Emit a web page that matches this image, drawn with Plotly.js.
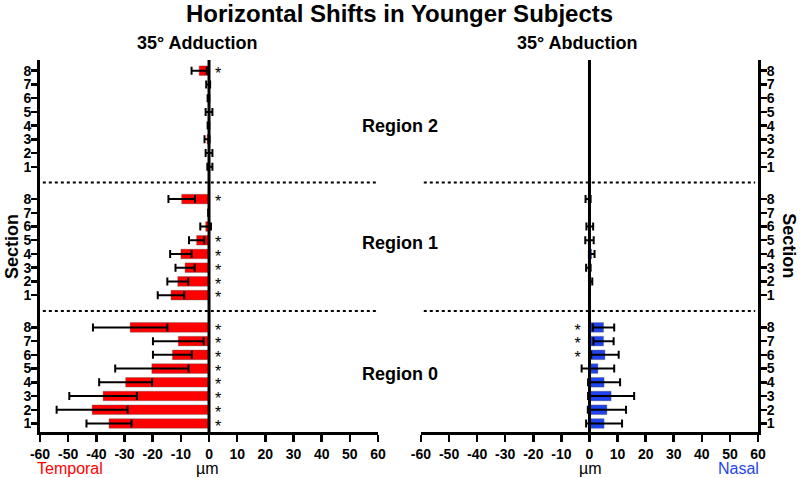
<!DOCTYPE html>
<html>
<head>
<meta charset="utf-8">
<script src="https://cdn.plot.ly/plotly-3.0.1.min.js"></script>
<style>html,body{margin:0;padding:0;background:#fff;}#chart{width:800px;height:478px;}</style>
</head>
<body>
<div id="chart"></div>
<script>
// ---- data ----
const sections = [1, 2, 3, 4, 5, 6, 7, 8];
const sectionLabels = ['1', '2', '3', '4', '5', '6', '7', '8'];
const regionNames = ['Region 0', 'Region 1', 'Region 2'];
const regionSpacing = 9.35;

// 35° Adduction (temporal, negative) — mean and error per section
const adductionR0 = [-35.5, -41.5, -37.6, -29.6, -20.3, -13.0, -10.9, -28.0];
const adductionR0Err = [8.0, 12.6, 12.0, 9.4, 13.0, 6.9, 9.0, 13.2];
const adductionR1 = [-13.5, -11.1, -8.5, -10.0, -4.4, -1.2, -0.3, -9.7];
const adductionR1Err = [4.7, 3.7, 3.4, 3.8, 2.7, 1.9, 0, 4.7];
const adductionR2 = [0.3, 0.0, -0.7, -0.2, 0.0, -0.2, -0.3, -3.5];
const adductionR2Err = [0.9, 1.2, 0.9, 0.3, 1.2, 0.3, 0.7, 2.7];
const adductionSigR0 = [1, 1, 1, 1, 1, 1, 1, 1];
const adductionSigR1 = [1, 1, 1, 1, 1, 0, 0, 1];
const adductionSigR2 = [0, 0, 0, 0, 0, 0, 0, 1];

// 35° Abduction (nasal, positive)
const abductionR0 = [5.2, 6.2, 7.7, 5.2, 3.0, 5.5, 5.0, 5.0];
const abductionR0Err = [6.4, 6.8, 8.2, 5.7, 5.8, 4.9, 3.6, 3.8];
const abductionR1 = [0.0, 0.5, -0.4, 0.8, 0.0, 0.1, 0.0, -0.5];
const abductionR1Err = [0, 0.5, 0.8, 1.0, 1.5, 1.2, 0, 0.9];
const abductionR2 = [null, null, null, null, null, null, null, null];
const abductionR2Err = [0, 0, 0, 0, 0, 0, 0, 0];
const abductionSigR0 = [0, 0, 0, 0, 0, 1, 1, 1];
const abductionSigR1 = [0, 0, 0, 0, 0, 0, 0, 0];
const abductionSigR2 = [0, 0, 0, 0, 0, 0, 0, 0];

const xTicks = [-60, -50, -40, -30, -20, -10, 0, 10, 20, 30, 40, 50, 60];

// ---- build ----
const FONT = 'Liberation Sans, Arial, Helvetica, sans-serif';
const rowPos = (r) => sections.map(s => r * regionSpacing + s);
const allPos = [0, 1, 2].flatMap(r => rowPos(r));
const allLabels = [0, 1, 2].flatMap(() => sectionLabels);

const addVals = [adductionR0, adductionR1, adductionR2];
const addErrs = [adductionR0Err, adductionR1Err, adductionR2Err];
const addSig = [adductionSigR0, adductionSigR1, adductionSigR2];
const abVals = [abductionR0, abductionR1, abductionR2];
const abErrs = [abductionR0Err, abductionR1Err, abductionR2Err];
const abSig = [abductionSigR0, abductionSigR1, abductionSigR2];

const traces = [];
function barTrace(vals, errs, r, color, xa, ya) {
  return {
    type: 'bar', orientation: 'h',
    x: vals, y: rowPos(r), width: 0.7,
    marker: {color: color, line: {color: 'rgba(90,90,90,0.35)', width: 1}},
    error_x: {type: 'data', array: errs, visible: true, color: '#000', thickness: 2, width: 4},
    xaxis: xa, yaxis: ya, hoverinfo: 'skip', showlegend: false
  };
}
for (let r = 0; r < 3; r++) {
  traces.push(barTrace(addVals[r], addErrs[r], r, '#ff0000', 'x', 'y'));
  traces.push(barTrace(abVals[r], abErrs[r], r, '#1f44ee', 'x2', 'y2'));
}
// asterisk glyph sits high in its line box, so its anchor is lowered a little
const starDrop = 0.3;
function starTrace(sigs, xOff, xa, ya) {
  const xs = [], ys = [];
  sigs.forEach((sig, r) => sig.forEach((v, i) => { if (v) { xs.push(xOff); ys.push(r * regionSpacing + sections[i] - starDrop); } }));
  return {type: 'scatter', mode: 'text', x: xs, y: ys, text: xs.map(() => '*'),
    textposition: 'middle center', cliponaxis: false,
    textfont: {family: FONT, size: 16, color: '#000'},
    xaxis: xa, yaxis: ya, hoverinfo: 'skip', showlegend: false};
}
traces.push(starTrace(addSig, 3.2, 'x', 'y'));
traces.push(starTrace(abSig, -4.2, 'x2', 'y2'));

const yRange = [0.38, 27.48];
const xAx = (domain, anchor) => ({
  domain: domain, anchor: anchor, range: [-60, 60], tickvals: xTicks, ticktext: xTicks.map(String),
  showgrid: false, zeroline: false, showline: true, linewidth: 3, linecolor: '#000',
  ticks: 'outside', ticklen: 7, tickwidth: 2.5, tickcolor: '#000',
  tickfont: {family: FONT, size: 14, color: '#000', weight: 'bold'}, fixedrange: true
});
const yAx = (side, anchor) => ({
  domain: [0, 1], anchor: anchor, side: side, range: yRange,
  tickvals: allPos, ticktext: allLabels,
  showgrid: false, zeroline: false, showline: true, linewidth: 3, linecolor: '#000',
  ticks: 'outside', ticklen: 6, tickwidth: 2.5, tickcolor: '#000', ticklabelstandoff: -3,
  tickfont: {family: FONT, size: 14, color: '#000', weight: 'bold'}, fixedrange: true
});

const shapes = [];
// zero lines
shapes.push({type: 'line', xref: 'x', yref: 'paper', x0: 0, x1: 0, y0: 0, y1: 1, line: {color: '#000', width: 3}, layer: 'above'});
shapes.push({type: 'line', xref: 'x2', yref: 'paper', x0: 0, x1: 0, y0: 0, y1: 1, line: {color: '#000', width: 3}, layer: 'above'});
// region separators
[1, 2].forEach(r => {
  const yy = r * regionSpacing - 0.15;
  shapes.push({type: 'line', xref: 'x', yref: 'y', x0: -59, x1: 60, y0: yy, y1: yy, line: {color: '#000', width: 2, dash: 'dot'}});
  shapes.push({type: 'line', xref: 'x2', yref: 'y2', x0: -59, x1: 59, y0: yy, y1: yy, line: {color: '#000', width: 2, dash: 'dot'}});
});

const B = (t) => '<b>' + t + '</b>';
const ann = (text, x, y, size, color, bold, angle) => ({
  text: bold ? B(text) : text, x: x, y: y, xref: 'paper', yref: 'paper', showarrow: false,
  xanchor: 'center', yanchor: 'middle', textangle: angle || 0,
  font: {family: FONT, size: size, color: color || '#000'}
});
const annotations = [
  ann('Horizontal Shifts in Younger Subjects', 0.5, 1.1237, 24, '#000', true),
  ann('35° Adduction', 0.2187, 1.0457, 18, '#000', true),
  ann('35° Abduction', 0.749, 1.0457, 18, '#000', true),
  ann(regionNames[2], 0.5014, 0.8226, 18, '#000', true),
  ann(regionNames[1], 0.5014, 0.508, 18, '#000', true),
  ann(regionNames[0], 0.5014, 0.156, 18, '#000', true),
  ann('Section', -0.039, 0.5, 18, '#000', true, -90),
  ann('Section', 1.043, 0.5, 18, '#000', true, 90),
  ann('Temporal', 0.0418, -0.0968, 16, '#ff0000', false),
  ann('µm', 0.2326, -0.0968, 16, '#000', false),
  ann('µm', 0.7674, -0.0968, 16, '#000', false),
  ann('Nasal', 0.9729, -0.0968, 16, '#1f44ee', false)
];

const layout = {
  width: 800, height: 478,
  margin: {l: 40, r: 42, t: 60, b: 46},
  paper_bgcolor: '#fff', plot_bgcolor: '#fff',
  barmode: 'overlay',
  xaxis: xAx([0, 0.4708], 'y'),
  xaxis2: xAx([0.5306, 1], 'y2'),
  yaxis: yAx('left', 'x'),
  yaxis2: yAx('right', 'x2'),
  shapes: shapes,
  annotations: annotations,
  font: {family: FONT, color: '#000'},
  showlegend: false
};

Plotly.newPlot('chart', traces, layout, {staticPlot: true, displayModeBar: false});
</script>
</body>
</html>
